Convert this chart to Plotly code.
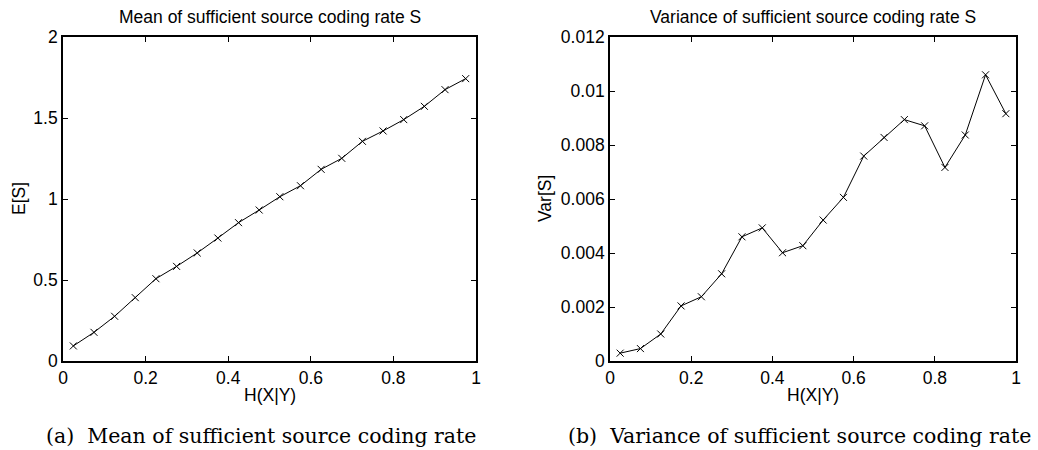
import plotly.graph_objects as go

# ---- data ----
h_xy = [0.025, 0.075, 0.125, 0.175, 0.225, 0.275, 0.325, 0.375, 0.425, 0.475,
        0.525, 0.575, 0.625, 0.675, 0.725, 0.775, 0.825, 0.875, 0.925, 0.975]
mean_s = [0.093, 0.177, 0.276, 0.391, 0.508, 0.584, 0.667, 0.759, 0.854, 0.932,
          1.014, 1.082, 1.183, 1.251, 1.356, 1.420, 1.490, 1.572, 1.675, 1.743]
var_s = [0.00029, 0.00046, 0.00100, 0.00204, 0.00238, 0.00323, 0.00460, 0.00493, 0.00401, 0.00427,
         0.00522, 0.00606, 0.00759, 0.00828, 0.00894, 0.00871, 0.00717, 0.00837, 0.01060, 0.00916]

x_ticks = [0, 0.2, 0.4, 0.6, 0.8, 1]
x_ticklabels = ["0", "0.2", "0.4", "0.6", "0.8", "1"]
mean_ticks = [0, 0.5, 1, 1.5, 2]
mean_ticklabels = ["0", "0.5", "1", "1.5", "2"]
var_ticks = [0, 0.002, 0.004, 0.006, 0.008, 0.010, 0.012]
var_ticklabels = ["0", "0.002", "0.004", "0.006", "0.008", "0.01", "0.012"]

titles = ["Mean of sufficient source coding rate S", "Variance of sufficient source coding rate S"]
ylabels = ["E[S]", "Var[S]"]
xlabel = "H(X|Y)"
captions = ["(a)  Mean of sufficient source coding rate", "(b)  Variance of sufficient source coding rate"]

W, H = 1038, 450
SANS = "Liberation Sans, Arial, sans-serif"
SERIF = "DejaVu Serif, serif"
FS = 17.5

# plot areas in pixels
L1, R1 = 63, 476
L2, R2 = 610, 1016
TOP, BOT = 37, 361

def px(x):
    return x / W

def py(y):
    return 1 - y / H

fig = go.Figure()
marker = dict(symbol="x-thin-open", size=7, color="black", line=dict(width=1, color="black"))
fig.add_trace(go.Scatter(x=h_xy, y=mean_s, mode="lines+markers",
                         line=dict(color="black", width=1), marker=marker,
                         xaxis="x", yaxis="y", showlegend=False))
fig.add_trace(go.Scatter(x=h_xy, y=var_s, mode="lines+markers",
                         line=dict(color="black", width=1), marker=marker,
                         xaxis="x2", yaxis="y2", showlegend=False))

axis_common = dict(showgrid=False, zeroline=False, showline=True, linecolor="black", linewidth=1.7,
                   mirror="allticks", ticks="inside", ticklen=5, tickwidth=1, tickcolor="black",
                   automargin=False,
                   tickfont=dict(family=SANS, size=FS, color="black"))

fig.update_layout(
    width=W, height=H,
    margin=dict(l=0, r=0, t=0, b=0, autoexpand=False),
    paper_bgcolor="white", plot_bgcolor="white",
    xaxis=dict(domain=[px(L1), px(R1)], range=[0, 1], anchor="y",
               tickvals=x_ticks, ticktext=x_ticklabels, **axis_common),
    yaxis=dict(domain=[py(BOT), py(TOP)], range=[0, 2], anchor="x",
               tickvals=mean_ticks, ticktext=mean_ticklabels, **axis_common),
    xaxis2=dict(domain=[px(L2), px(R2)], range=[0, 1], anchor="y2",
                tickvals=x_ticks, ticktext=x_ticklabels, **axis_common),
    yaxis2=dict(domain=[py(BOT), py(TOP)], range=[0, 0.012], anchor="x2",
                tickvals=var_ticks, ticktext=var_ticklabels, **axis_common),
)

ann = []
cap_shift = [-9, -14]
for i, (l, r) in enumerate([(L1, R1), (L2, R2)]):
    cx = (l + r) / 2
    ann.append(dict(text=titles[i], x=px(cx), y=py(17), xref="paper", yref="paper",
                    xanchor="center", yanchor="middle", showarrow=False,
                    font=dict(family=SANS, size=FS, color="black")))
    ann.append(dict(text=xlabel, x=px(cx), y=py(395), xref="paper", yref="paper",
                    xanchor="center", yanchor="middle", showarrow=False,
                    font=dict(family=SANS, size=FS, color="black")))
    ann.append(dict(text=captions[i], x=px(cx + cap_shift[i]), y=py(436), xref="paper", yref="paper",
                    xanchor="center", yanchor="middle", showarrow=False,
                    font=dict(family=SERIF, size=20.5, color="black")))
ann.append(dict(text=ylabels[0], x=px(19), y=py((TOP + BOT) / 2), xref="paper", yref="paper",
                xanchor="center", yanchor="middle", showarrow=False, textangle=-90,
                font=dict(family=SANS, size=FS, color="black")))
ann.append(dict(text=ylabels[1], x=px(545), y=py((TOP + BOT) / 2), xref="paper", yref="paper",
                xanchor="center", yanchor="middle", showarrow=False, textangle=-90,
                font=dict(family=SANS, size=FS, color="black")))
fig.update_layout(annotations=ann)

fig.write_html("out.html",
               post_script="document.body.style.margin='0';document.body.style.padding='0';"
                           "document.documentElement.style.margin='0';")
